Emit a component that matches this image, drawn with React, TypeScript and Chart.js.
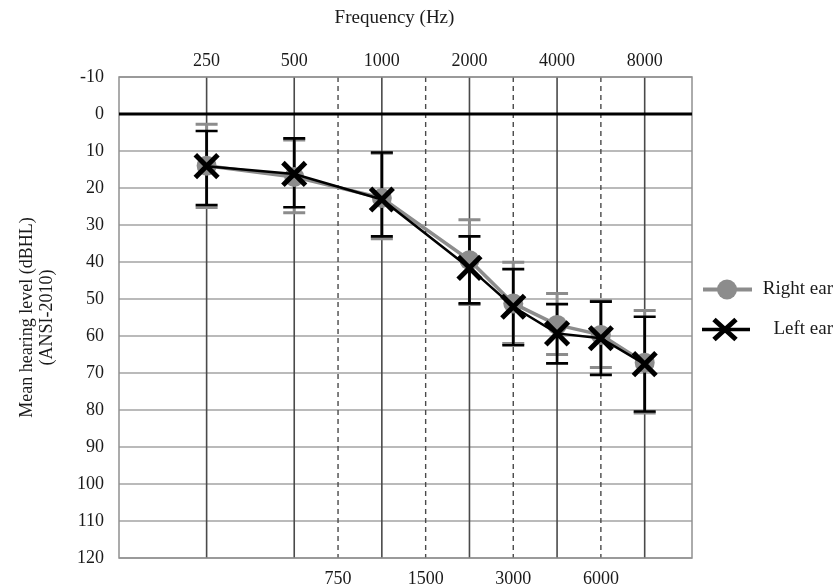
import React, { useEffect, useRef } from 'react';
import { Chart, registerables } from 'chart.js';

Chart.register(...registerables);

// ---- Data ----
const frequencies = ['250', '500', '1000', '2000', '3000', '4000', '6000', '8000'];
const freqPositions = [1, 2, 3, 4, 4.5, 5, 5.5, 6];
const topTickPositions = [1, 2, 3, 4, 5, 6];
const topTickLabels = ['250', '500', '1000', '2000', '4000', '8000'];
const bottomTickPositions = [2.5, 3.5, 4.5, 5.5];
const bottomTickLabels = ['750', '1500', '3000', '6000'];

const rightEarMean = [14, 17, 22.7, 39.5, 51.2, 57, 59.7, 67.2];
const rightEarUpper = [2.8, 7, 10.6, 28.6, 40.1, 48.5, 50.5, 53.1];
const rightEarLower = [25.3, 26.7, 33.7, 51.5, 62, 65, 68.5, 80.8];

const leftEarMean = [14.1, 16.2, 23.1, 41.6, 52.1, 59.3, 60.6, 67.6];
const leftEarUpper = [4.6, 6.6, 10.4, 33.1, 41.9, 51.4, 50.7, 54.8];
const leftEarLower = [24.6, 25.2, 33.1, 51.2, 62.5, 67.4, 70.5, 80.4];

const seriesLabels = ['Right ear', 'Left ear'];
const xTitle = 'Frequency (Hz)';
const yTitle = ['Mean hearing level (dBHL)', '(ANSI-2010)'];

// ---- Styles ----
const FONT = "'Liberation Serif', 'Times New Roman', serif";
const TEXT = '#1a1a1a';
const GRAY = '#8c8c8c';

const audiogramPlugin = {
  id: 'audiogram',
  beforeDatasetsDraw(chart: any) {
    const { ctx, chartArea, scales } = chart;
    const { left, right, top, bottom } = chartArea;
    const y = scales.y;
    const xb = scales.x;
    const xt = scales.x2;
    ctx.save();
    // horizontal grid
    ctx.strokeStyle = '#a3a3a3';
    ctx.lineWidth = 1.5;
    y.ticks.forEach((t: any) => {
      if (t.value === 0) return;
      const py = y.getPixelForValue(t.value);
      ctx.beginPath();
      ctx.moveTo(left, py);
      ctx.lineTo(right, py);
      ctx.stroke();
    });
    // solid verticals (octaves)
    ctx.strokeStyle = '#4a4a4a';
    ctx.lineWidth = 1.6;
    xt.ticks.forEach((t: any) => {
      const px = xt.getPixelForValue(t.value);
      ctx.beginPath();
      ctx.moveTo(px, top);
      ctx.lineTo(px, bottom);
      ctx.stroke();
    });
    // dashed verticals (half octaves)
    ctx.setLineDash([5, 4]);
    ctx.lineWidth = 1.4;
    xb.ticks.forEach((t: any) => {
      const px = xb.getPixelForValue(t.value);
      ctx.beginPath();
      ctx.moveTo(px, top);
      ctx.lineTo(px, bottom);
      ctx.stroke();
    });
    ctx.setLineDash([]);
    // border
    ctx.strokeStyle = '#909090';
    ctx.lineWidth = 1.5;
    ctx.strokeRect(left, top, right - left, bottom - top);
    // zero line
    const pz = y.getPixelForValue(0);
    ctx.strokeStyle = '#000';
    ctx.lineWidth = 3;
    ctx.beginPath();
    ctx.moveTo(left, pz);
    ctx.lineTo(right, pz);
    ctx.stroke();

    // error bars
    const drawBars = (upper: number[], lower: number[], color: string, lw: number) => {
      ctx.strokeStyle = color;
      ctx.lineWidth = lw;
      freqPositions.forEach((fx, i) => {
        const px = xb.getPixelForValue(fx);
        const pu = y.getPixelForValue(upper[i]);
        const pl = y.getPixelForValue(lower[i]);
        ctx.beginPath();
        ctx.moveTo(px, pu);
        ctx.lineTo(px, pl);
        ctx.moveTo(px - 11, pu);
        ctx.lineTo(px + 11, pu);
        ctx.moveTo(px - 11, pl);
        ctx.lineTo(px + 11, pl);
        ctx.stroke();
      });
    };
    drawBars(rightEarUpper, rightEarLower, GRAY, 3);
    drawBars(leftEarUpper, leftEarLower, '#000', 2.7);
    ctx.restore();
  },
  afterDraw(chart: any) {
    const { ctx, chartArea } = chart;
    const { left, right, top, bottom } = chartArea;
    ctx.save();
    // x title
    ctx.fillStyle = TEXT;
    ctx.font = `19px ${FONT}`;
    ctx.textAlign = 'center';
    ctx.textBaseline = 'middle';
    ctx.fillText(xTitle, (left + right) / 2 - 11, 18);

    // legend
    const mid = (top + bottom) / 2;
    const rows = [mid - 28, mid + 12];
    const textRight = chart.width - 1;
    // Right ear
    let ry = rows[0];
    ctx.strokeStyle = GRAY;
    ctx.lineWidth = 4;
    ctx.beginPath();
    ctx.moveTo(right + 11, ry);
    ctx.lineTo(right + 60, ry);
    ctx.stroke();
    ctx.fillStyle = GRAY;
    ctx.beginPath();
    ctx.arc(right + 35, ry, 10, 0, Math.PI * 2);
    ctx.fill();
    // Left ear
    ry = rows[1];
    ctx.strokeStyle = '#000';
    ctx.lineWidth = 3.5;
    ctx.beginPath();
    ctx.moveTo(right + 10, ry);
    ctx.lineTo(right + 58, ry);
    ctx.stroke();
    ctx.lineWidth = 5;
    const cx = right + 33;
    ctx.beginPath();
    ctx.moveTo(cx - 11, ry - 10);
    ctx.lineTo(cx + 11, ry + 10);
    ctx.moveTo(cx + 11, ry - 10);
    ctx.lineTo(cx - 11, ry + 10);
    ctx.stroke();
    // legend text
    ctx.fillStyle = TEXT;
    ctx.font = `19px ${FONT}`;
    ctx.textAlign = 'right';
    ctx.textBaseline = 'middle';
    ctx.fillText(seriesLabels[0], textRight, rows[0]);
    ctx.fillText(seriesLabels[1], textRight, rows[1]);
    ctx.restore();
  },
};

export default function App() {
  const canvasRef = useRef<HTMLCanvasElement | null>(null);

  useEffect(() => {
    const canvas = canvasRef.current;
    if (!canvas) return;
    const tickFont = { family: FONT, size: 18 };
    const chart = new Chart(canvas, {
      type: 'line',
      data: {
        datasets: [
          {
            label: seriesLabels[0],
            data: freqPositions.map((x, i) => ({ x, y: rightEarMean[i] })),
            borderColor: GRAY,
            backgroundColor: GRAY,
            borderWidth: 3.5,
            pointStyle: 'circle',
            pointRadius: 10,
            pointBorderWidth: 0,
            pointBackgroundColor: GRAY,
            order: 2,
            xAxisID: 'x',
            yAxisID: 'y',
          },
          {
            label: seriesLabels[1],
            data: freqPositions.map((x, i) => ({ x, y: leftEarMean[i] })),
            borderColor: '#000',
            backgroundColor: '#000',
            borderWidth: 2.5,
            pointStyle: 'crossRot',
            pointRadius: 16,
            pointBorderWidth: 5,
            pointBorderColor: '#000',
            order: 1,
            xAxisID: 'x',
            yAxisID: 'y',
          },
        ],
      },
      options: {
        animation: false,
        responsive: false,
        devicePixelRatio: 1,
        layout: { padding: { left: 0, right: 142, top: 0, bottom: 0 } },
        plugins: {
          legend: { display: false },
          tooltip: { enabled: false },
          title: { display: false },
        },
        scales: {
          x: {
            type: 'linear',
            position: 'bottom',
            min: 0,
            max: 6.54,
            grid: { display: false, drawTicks: false },
            border: { display: false },
            afterBuildTicks: (s: any) => {
              s.ticks = bottomTickPositions.map((v) => ({ value: v }));
            },
            ticks: {
              autoSkip: false,
              maxRotation: 0,
              padding: 10,
              color: TEXT,
              font: tickFont,
              callback: (_v: any, i: number) => bottomTickLabels[i],
            },
            afterFit: (s: any) => {
              s.height = 30;
            },
          },
          x2: {
            type: 'linear',
            position: 'top',
            min: 0,
            max: 6.54,
            grid: { display: false, drawTicks: false },
            border: { display: false },
            afterBuildTicks: (s: any) => {
              s.ticks = topTickPositions.map((v) => ({ value: v }));
            },
            ticks: {
              autoSkip: false,
              maxRotation: 0,
              padding: 4.5,
              color: TEXT,
              font: tickFont,
              callback: (_v: any, i: number) => topTickLabels[i],
            },
            afterFit: (s: any) => {
              s.height = 77;
            },
          },
          y: {
            type: 'linear',
            reverse: true,
            min: -10,
            max: 120,
            grid: { display: false, drawTicks: false },
            border: { display: false },
            ticks: {
              stepSize: 10,
              padding: 15,
              color: TEXT,
              font: tickFont,
            },
            title: {
              display: true,
              text: yTitle,
              color: TEXT,
              font: { family: FONT, size: 18, lineHeight: 1.15 },
              padding: { top: 16.5, bottom: 0 },
            },
            afterFit: (s: any) => {
              s.width = 119;
            },
          },
        },
      },
      plugins: [audiogramPlugin],
    });
    return () => chart.destroy();
  }, []);

  return (
    <div style={{ position: 'absolute', left: 0, top: 0, width: 834, height: 588, background: '#fff' }}>
      <canvas ref={canvasRef} width={834} height={588} />
    </div>
  );
}
